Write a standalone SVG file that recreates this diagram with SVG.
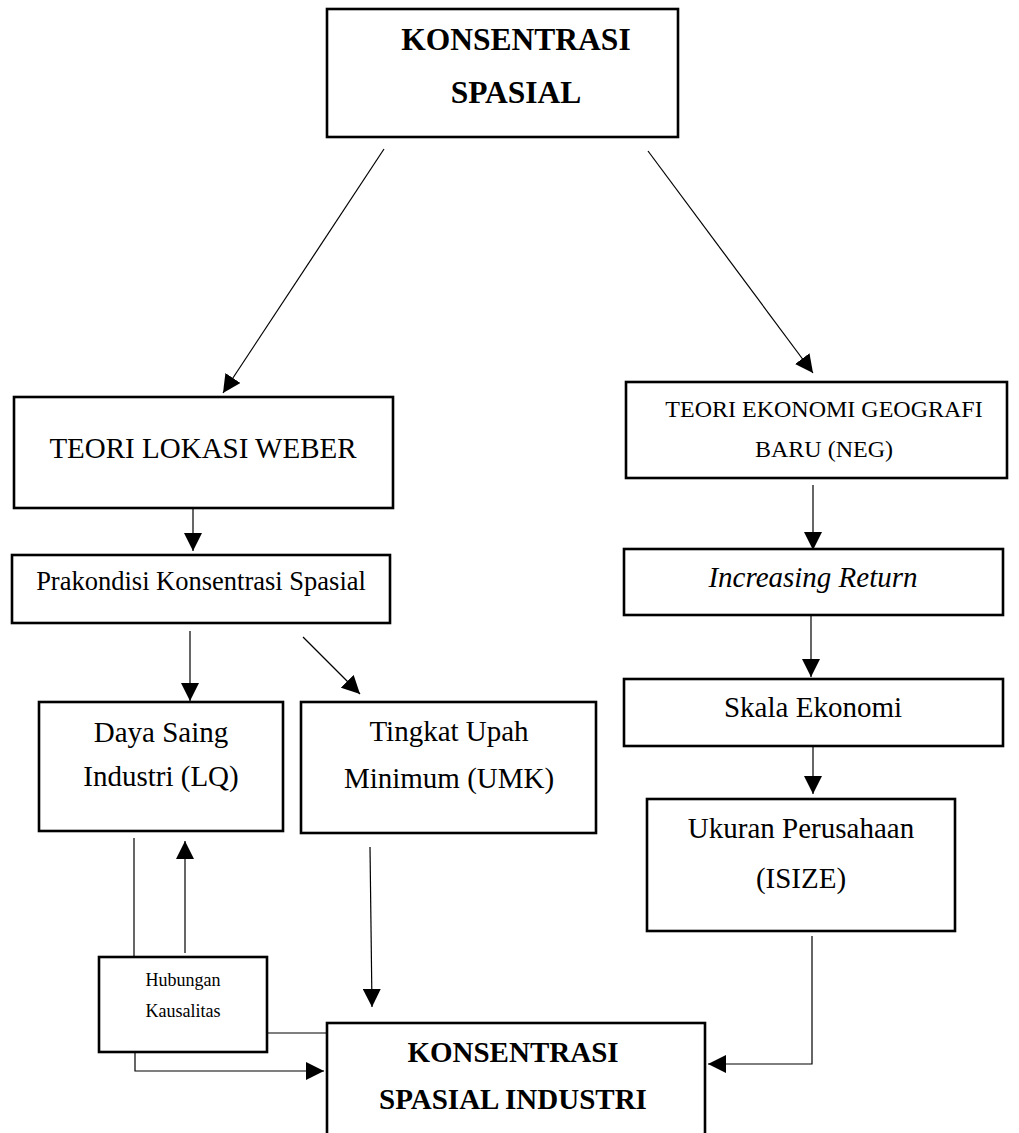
<svg xmlns="http://www.w3.org/2000/svg" width="1019" height="1133" viewBox="0 0 1019 1133">
<style>
.box{fill:#fff;stroke:#000;stroke-width:2.6}
.t{font-family:"Liberation Serif","Times New Roman",serif;fill:#000;text-anchor:middle;font-size:29px}
.b{font-weight:bold}
.c{fill:none;stroke:#000;stroke-width:1.2}
</style>
<defs>
<marker id="ah" markerUnits="userSpaceOnUse" markerWidth="18" markerHeight="18" viewBox="0 0 16 16" refX="16" refY="8" orient="auto">
<path d="M0,0 L16,8 L0,16 z" fill="#000"/>
</marker>
</defs>
<rect width="1019" height="1133" fill="#fff"/>
<g id="connectors">
<line class="c" x1="384" y1="149" x2="223" y2="393" marker-end="url(#ah)"/>
<line class="c" x1="648" y1="151" x2="813" y2="373" marker-end="url(#ah)"/>
<line class="c" x1="193" y1="508" x2="193" y2="551" marker-end="url(#ah)"/>
<line class="c" x1="190" y1="631" x2="190" y2="701" marker-end="url(#ah)"/>
<line class="c" x1="303" y1="637" x2="360" y2="694" marker-end="url(#ah)"/>
<line class="c" x1="134" y1="838" x2="134" y2="957"/>
<line class="c" x1="185" y1="953" x2="185" y2="841" marker-end="url(#ah)"/>
<line class="c" x1="370" y1="847" x2="372" y2="1007" marker-end="url(#ah)"/>
<line class="c" x1="267" y1="1033" x2="326" y2="1033"/>
<polyline class="c" points="135,1052 135,1071 324,1071" marker-end="url(#ah)"/>
<line class="c" x1="813" y1="485" x2="813" y2="550" marker-end="url(#ah)"/>
<line class="c" x1="811" y1="615" x2="811" y2="677" marker-end="url(#ah)"/>
<line class="c" x1="813" y1="746" x2="813" y2="794" marker-end="url(#ah)"/>
<polyline class="c" points="812,936 812,1064 708,1064" marker-end="url(#ah)"/>
</g>
<g id="konsentrasi-spasial">
<rect class="box" x="327" y="9" width="351" height="128"/>
<text class="t b" x="516" y="50" style="font-size:31.5px">KONSENTRASI</text>
<text class="t b" x="516" y="103" style="font-size:31.5px">SPASIAL</text>
</g>
<g id="teori-weber">
<rect class="box" x="14" y="397" width="379" height="111"/>
<text class="t" x="203" y="458">TEORI LOKASI WEBER</text>
</g>
<g id="prakondisi">
<rect class="box" x="12" y="555" width="378" height="68"/>
<text class="t" x="201" y="590" style="font-size:26.5px">Prakondisi Konsentrasi Spasial</text>
</g>
<g id="daya-saing">
<rect class="box" x="39" y="702" width="244" height="129"/>
<text class="t" x="161" y="742">Daya Saing</text>
<text class="t" x="161" y="786">Industri (LQ)</text>
</g>
<g id="tingkat-upah">
<rect class="box" x="301" y="702" width="295" height="131"/>
<text class="t" x="449" y="741">Tingkat Upah</text>
<text class="t" x="449" y="788">Minimum (UMK)</text>
</g>
<g id="hubungan">
<rect class="box" x="99" y="957" width="168" height="95"/>
<text class="t" x="183" y="986" style="font-size:18px">Hubungan</text>
<text class="t" x="183" y="1017" style="font-size:18px">Kausalitas</text>
</g>
<g id="konsentrasi-industri">
<rect class="box" x="327" y="1023" width="378" height="130"/>
<text class="t b" x="513" y="1062">KONSENTRASI</text>
<text class="t b" x="513" y="1109">SPASIAL INDUSTRI</text>
</g>
<g id="teori-neg">
<rect class="box" x="626" y="382" width="381" height="96"/>
<text class="t" x="824" y="417" style="font-size:24px">TEORI EKONOMI GEOGRAFI</text>
<text class="t" x="824" y="457" style="font-size:24px">BARU (NEG)</text>
</g>
<g id="increasing-return">
<rect class="box" x="624" y="549" width="379" height="66"/>
<text class="t" x="813" y="587" font-style="italic">Increasing Return</text>
</g>
<g id="skala-ekonomi">
<rect class="box" x="624" y="679" width="379" height="67"/>
<text class="t" x="813" y="717">Skala Ekonomi</text>
</g>
<g id="ukuran-perusahaan">
<rect class="box" x="647" y="799" width="308" height="132"/>
<text class="t" x="801" y="838">Ukuran Perusahaan</text>
<text class="t" x="801" y="888">(ISIZE)</text>
</g>
</svg>
